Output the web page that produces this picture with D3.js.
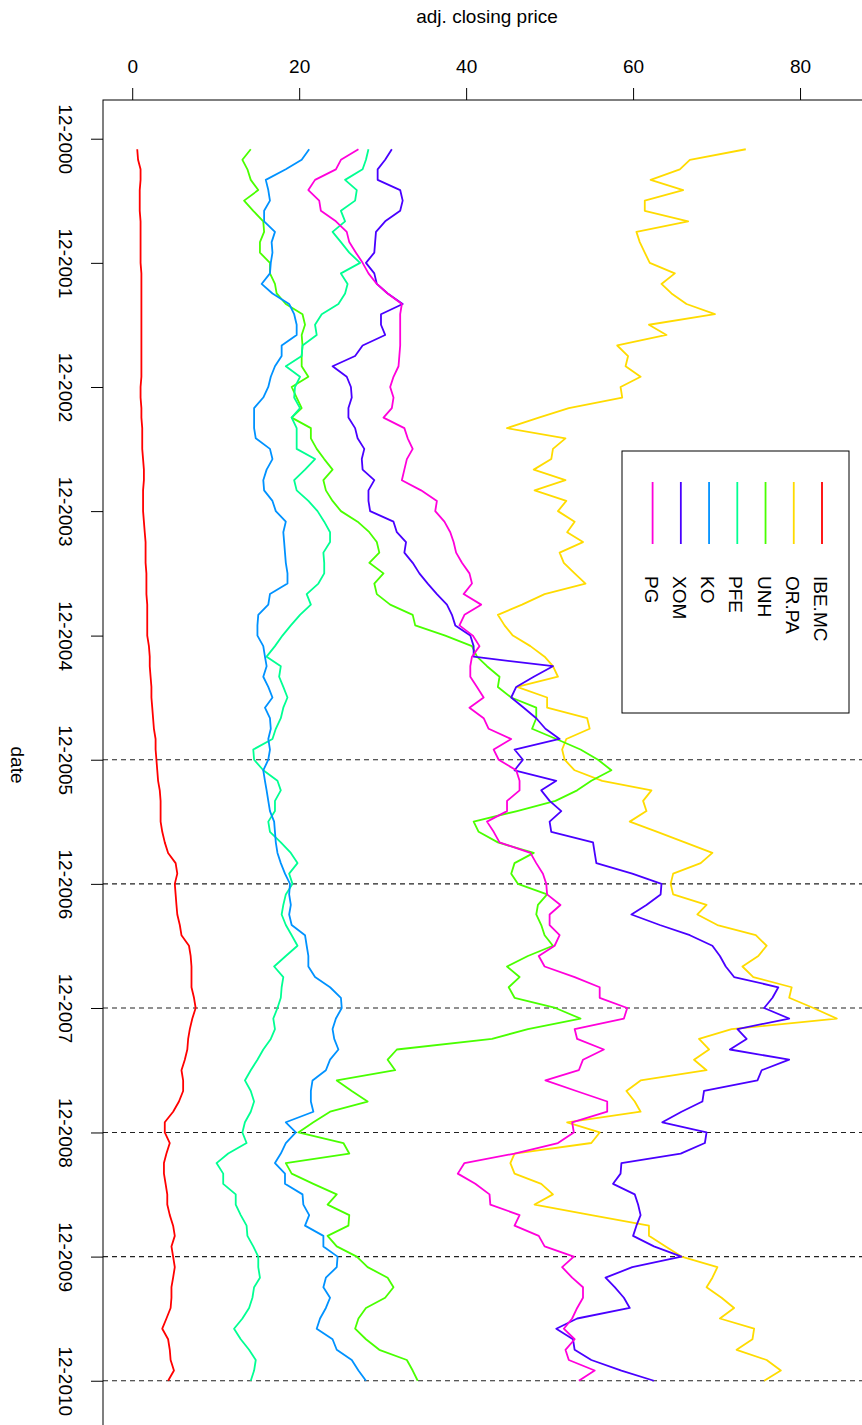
<!DOCTYPE html>
<html>
<head>
<meta charset="utf-8">
<script src="https://cdn.jsdelivr.net/npm/d3@7"></script>
<style>
  body { margin: 0; background: #fff; }
  svg { display: block; }
  text { font-family: "Liberation Sans", Arial, sans-serif; fill: #000; }
</style>
</head>
<body>
<svg id="chart" width="862" height="1425"></svg>
<script>
// Monthly adjusted closing prices, Jan 2001 .. Dec 2010
const seriesNames  = ["IBE.MC", "OR.PA", "UNH", "PFE", "KO", "XOM", "PG"];
const seriesColors = ["#FF0000", "#FFDB00", "#49FF00", "#00FF92", "#0092FF", "#4900FF", "#FF00DB"];

const months = d3.timeMonth.range(new Date(2001, 0, 1), new Date(2011, 0, 1));

const ibe = [
  0.6, 0.7, 1.0, 1.0, 0.9, 0.9, 0.9, 1.0, 1.0, 1.0, 1.0, 1.0,
  1.1, 1.1, 1.1, 1.1, 1.1, 1.1, 1.1, 1.1, 1.1, 1.1, 1.1, 1.0,
  1.0, 1.1, 1.1, 1.2, 1.2, 1.2, 1.3, 1.4, 1.4, 1.3, 1.3, 1.3,
  1.4, 1.5, 1.6, 1.6, 1.6, 1.7, 1.7, 1.7, 1.8, 1.8, 1.8, 1.8,
  2.0, 2.1, 2.1, 2.2, 2.3, 2.3, 2.4, 2.5, 2.6, 2.8, 2.8, 2.9,
  3.0, 3.1, 3.3, 3.4, 3.4, 3.4, 3.6, 3.9, 4.3, 5.2, 5.4, 5.1,
  5.2, 5.3, 5.4, 5.7, 5.9, 6.8, 7.0, 7.1, 7.1, 7.1, 7.4, 7.6,
  7.2, 6.9, 6.7, 6.6, 6.3, 5.9, 6.1, 6.1, 5.6, 4.9, 3.9, 3.9,
  4.5, 4.1, 3.8, 3.8, 4.0, 4.2, 4.2, 4.5, 4.9, 5.1, 4.7, 4.9,
  5.1, 4.9, 4.7, 4.7, 4.6, 4.1, 3.6, 4.3, 4.5, 4.6, 5.0, 4.3
];
const orpa = [
  73.5, 66.8, 65.6, 62.1, 66.0, 61.4, 61.4, 66.6, 60.4, 60.8, 61.4, 62.0,
  65.0, 63.4, 64.6, 66.4, 69.8, 61.9, 64.0, 58.1, 59.4, 59.1, 60.9, 58.5,
  58.7, 52.3, 48.7, 44.9, 51.9, 50.4, 50.2, 48.1, 51.9, 48.2, 52.0, 51.0,
  53.0, 52.1, 54.0, 51.2, 51.7, 53.0, 54.3, 49.4, 46.7, 43.8, 44.6, 45.6,
  47.7, 49.4, 50.4, 51.0, 46.1, 49.7, 49.7, 54.5, 54.8, 52.0, 51.5, 51.8,
  53.0, 56.3, 62.2, 61.2, 61.6, 59.6, 62.9, 66.2, 69.5, 68.1, 64.8, 64.5,
  64.8, 68.8, 67.7, 70.1, 74.7, 76.0, 75.0, 73.1, 74.4, 79.0, 78.7, 81.6,
  84.4, 71.8, 67.9, 69.1, 67.3, 68.8, 60.9, 59.2, 60.2, 60.9, 52.1, 56.0,
  55.0, 45.8, 45.3, 45.8, 49.0, 50.4, 48.2, 55.0, 61.9, 61.9, 63.9, 65.8,
  70.1, 69.5, 68.8, 70.6, 72.1, 70.4, 74.5, 74.3, 72.4, 76.0, 77.7, 75.7
];
const unh = [
  14.2, 13.2, 13.8, 14.2, 15.1, 13.4, 14.5, 15.7, 15.8, 15.3, 15.3, 16.5,
  16.5, 17.1, 17.3, 18.4, 20.4, 20.7, 20.3, 20.4, 20.3, 20.3, 21.1, 19.1,
  19.7, 20.3, 19.1, 21.4, 21.4, 22.1, 23.0, 24.0, 22.9, 23.2, 24.0, 25.0,
  27.0, 28.4, 29.3, 29.6, 28.4, 30.1, 29.0, 29.3, 30.9, 33.6, 33.9, 37.5,
  40.7, 41.3, 42.5, 44.0, 43.8, 45.4, 48.4, 48.4, 47.9, 50.8, 53.7, 55.8,
  57.4, 55.0, 53.3, 50.7, 46.1, 40.9, 41.5, 43.8, 48.1, 45.8, 45.4, 46.2,
  49.7, 48.6, 48.4, 49.0, 49.4, 50.4, 47.4, 44.9, 46.4, 45.1, 45.8, 50.7,
  53.7, 47.4, 43.1, 31.7, 30.6, 31.5, 24.5, 26.3, 28.2, 23.7, 21.7, 19.9,
  25.3, 26.0, 18.4, 19.1, 21.7, 24.5, 23.4, 26.0, 25.9, 23.4, 24.5, 26.9,
  28.2, 30.6, 31.3, 30.3, 28.0, 27.1, 26.7, 28.0, 29.6, 32.9, 33.6, 34.2
];
const pfe = [
  28.3, 28.0, 27.6, 25.5, 26.9, 26.7, 25.0, 25.5, 24.0, 25.0, 26.0, 27.3,
  25.0, 25.8, 25.5, 24.7, 22.7, 21.9, 22.1, 20.4, 20.3, 18.4, 20.1, 19.5,
  19.4, 20.1, 19.1, 19.7, 19.7, 19.7, 21.9, 20.7, 19.4, 19.7, 21.1, 22.2,
  23.0, 23.7, 23.7, 22.9, 23.0, 23.0, 22.3, 20.9, 21.4, 20.1, 19.0, 18.0,
  17.1, 16.1, 17.8, 17.6, 18.1, 18.6, 18.1, 17.8, 17.2, 16.8, 14.5, 14.6,
  15.7, 17.4, 17.8, 17.1, 17.1, 16.3, 16.5, 17.8, 19.0, 19.8, 18.8, 19.2,
  18.4, 18.1, 17.9, 18.4, 19.1, 19.8, 18.4, 17.0, 18.1, 17.9, 17.8, 17.4,
  16.9, 17.1, 16.6, 15.7, 15.0, 14.2, 13.5, 14.2, 14.6, 14.2, 13.5, 13.2,
  13.7, 11.5, 10.1, 10.9, 10.9, 12.4, 12.4, 13.0, 13.7, 13.8, 14.5, 15.1,
  15.1, 15.3, 14.6, 14.4, 14.0, 13.2, 12.2, 13.0, 14.0, 14.8, 14.6, 14.2
];
const ko = [
  21.2, 20.3, 18.4, 16.0, 16.3, 16.5, 15.8, 15.8, 17.1, 16.7, 16.8, 16.6,
  16.5, 15.5, 16.8, 18.8, 19.4, 19.7, 19.7, 17.9, 17.9, 17.1, 16.6, 16.3,
  15.7, 14.6, 14.6, 14.6, 14.8, 16.5, 16.8, 16.1, 15.7, 15.8, 16.8, 17.2,
  18.4, 18.1, 18.2, 18.3, 18.4, 18.6, 18.6, 16.5, 16.3, 15.1, 15.0, 15.0,
  15.7, 15.9, 16.1, 15.7, 16.3, 16.8, 15.9, 16.5, 16.6, 16.3, 16.5, 16.3,
  15.7, 15.9, 16.1, 16.3, 16.5, 17.0, 17.1, 17.2, 17.4, 17.8, 18.3, 18.9,
  18.8, 19.0, 18.8, 19.1, 20.7, 20.9, 21.1, 21.1, 21.9, 23.7, 25.0, 25.1,
  24.4, 24.0, 24.2, 24.7, 23.7, 23.2, 21.6, 21.4, 21.4, 21.7, 18.4, 19.6,
  18.4, 17.8, 17.1, 18.3, 18.3, 20.4, 20.5, 21.2, 20.7, 22.9, 22.9, 24.6,
  24.5, 23.2, 22.9, 23.7, 23.2, 22.5, 22.1, 24.0, 24.5, 26.3, 27.1, 28.0
];
const xom = [
  31.1, 30.3, 29.4, 29.4, 32.1, 32.4, 32.1, 30.3, 29.2, 29.1, 29.0, 28.0,
  29.0, 29.3, 30.6, 32.4, 29.8, 29.8, 30.3, 27.6, 26.7, 24.0, 25.7, 26.2,
  26.3, 25.9, 25.9, 26.7, 27.0, 27.8, 27.5, 27.6, 29.0, 28.3, 28.3, 28.5,
  31.3, 31.7, 32.8, 32.6, 33.6, 34.4, 35.4, 36.5, 37.7, 38.3, 38.7, 40.5,
  40.9, 40.9, 50.4, 48.1, 46.0, 45.4, 46.9, 48.4, 49.5, 51.2, 45.8, 46.8,
  45.8, 50.8, 49.0, 50.0, 51.4, 50.0, 50.2, 55.2, 55.4, 55.6, 59.9, 63.4,
  63.3, 61.6, 59.8, 63.2, 66.8, 69.5, 70.4, 71.1, 72.1, 77.4, 76.7, 75.7,
  78.7, 72.5, 73.6, 71.6, 78.7, 75.4, 74.9, 68.5, 68.3, 65.8, 63.5, 68.8,
  68.6, 65.7, 58.6, 58.5, 57.6, 60.2, 60.6, 60.9, 60.4, 60.0, 62.5, 65.8,
  59.9, 56.7, 57.8, 58.9, 59.6, 53.3, 50.8, 52.8, 53.0, 55.0, 58.6, 62.5
];
const pg = [
  27.1, 25.0, 24.4, 21.9, 21.1, 22.4, 22.6, 24.4, 25.7, 26.0, 26.8, 27.6,
  28.3, 29.3, 30.6, 32.3, 32.1, 32.1, 32.1, 32.1, 32.0, 31.9, 31.3, 30.9,
  31.3, 31.1, 30.1, 32.6, 33.0, 33.6, 32.9, 32.6, 32.3, 34.6, 36.5, 36.3,
  37.4, 38.1, 38.5, 38.8, 39.5, 40.4, 40.7, 39.7, 41.8, 39.8, 39.2, 40.8,
  41.6, 40.7, 40.5, 40.5, 41.3, 42.1, 40.4, 42.1, 42.7, 45.4, 43.3, 43.9,
  46.0, 46.4, 46.4, 44.9, 44.9, 42.5, 43.3, 44.0, 47.7, 48.4, 49.2, 49.6,
  49.7, 51.3, 50.0, 50.0, 51.2, 50.6, 48.7, 49.4, 53.0, 56.0, 56.0, 59.3,
  58.9, 53.0, 53.3, 56.5, 54.0, 53.5, 49.5, 53.2, 56.9, 56.9, 52.7, 52.9,
  51.0, 45.8, 39.8, 39.0, 41.1, 42.8, 42.9, 46.4, 45.8, 48.7, 49.4, 52.9,
  51.5, 52.7, 54.0, 54.0, 53.3, 52.7, 51.7, 53.0, 51.9, 52.3, 55.4, 53.5
];

const priceTicks = [0, 20, 40, 60, 80];
const dateTicks = d3.range(2000, 2011).map(yr => new Date(yr, 11, 1));
const dashedDates = d3.range(2005, 2011).map(yr => new Date(yr, 11, 1));

const seriesValues = [ibe, orpa, unh, pfe, ko, xom, pg];
const series = seriesNames.map((name, k) => ({
  name, color: seriesColors[k],
  points: months.map((d, i) => ({ date: d, value: seriesValues[k][i] }))
}));

// Plot frame (the plot is drawn rotated: price runs left-to-right, time runs downward)
const frame = { left: 103, top: 100, right: 871, bottom: 1430 };

const svg = d3.select("#chart");

const x = d3.scaleLinear().domain([-3.5, 88.5]).range([frame.left, frame.right]);

const t0 = months[0], t1 = months[months.length - 1];
const pad = (t1 - t0) * 0.04;
const y = d3.scaleTime()
  .domain([new Date(+t0 - pad), new Date(+t1 + pad)])
  .range([frame.top, frame.bottom]);

// dashed year markers
svg.append("g").selectAll("line").data(dashedDates).join("line")
  .attr("x1", frame.left).attr("x2", frame.right)
  .attr("y1", d => y(d)).attr("y2", d => y(d))
  .attr("stroke", "#222").attr("stroke-width", 1.1)
  .attr("stroke-dasharray", "5,4");

// series lines
const line = d3.line().x(d => x(d.value)).y(d => y(d.date));
svg.append("g").selectAll("path").data(series).join("path")
  .attr("d", d => line(d.points))
  .attr("fill", "none")
  .attr("stroke", d => d.color)
  .attr("stroke-width", 1.8)
  .attr("stroke-linejoin", "round");

// frame
svg.append("rect")
  .attr("x", frame.left).attr("y", frame.top)
  .attr("width", frame.right - frame.left).attr("height", frame.bottom - frame.top)
  .attr("fill", "none").attr("stroke", "#000").attr("stroke-width", 1);

// price axis along the top
const topAxis = svg.append("g")
  .attr("transform", `translate(0,${frame.top})`)
  .call(d3.axisTop(x).tickValues(priceTicks).tickSize(12).tickPadding(15).tickFormat(d3.format("d")));
topAxis.select(".domain").remove();
topAxis.selectAll("line").attr("stroke", "#000");
topAxis.selectAll("text").attr("font-size", 19).attr("font-family", "Liberation Sans, Arial, sans-serif");

// date axis along the left, labels rotated
const leftAxis = svg.append("g")
  .attr("transform", `translate(${frame.left},0)`)
  .call(d3.axisLeft(y).tickValues(dateTicks).tickSize(12).tickFormat(d3.timeFormat("%m-%Y")));
leftAxis.select(".domain").remove();
leftAxis.selectAll("line").attr("stroke", "#000");
leftAxis.selectAll("text")
  .attr("x", null).attr("dy", null)
  .attr("text-anchor", "middle")
  .attr("transform", "translate(-44,0) rotate(90)")
  .attr("font-size", 19).attr("font-family", "Liberation Sans, Arial, sans-serif");

// axis titles
svg.append("text")
  .attr("x", (frame.left + frame.right) / 2).attr("y", 23)
  .attr("text-anchor", "middle").attr("font-size", 19)
  .text("adj. closing price");
svg.append("text")
  .attr("transform", `translate(11,${(frame.top + frame.bottom) / 2}) rotate(90)`)
  .attr("text-anchor", "middle").attr("font-size", 19)
  .text("date");

// legend
const legend = svg.append("g");
legend.append("rect")
  .attr("x", 622).attr("y", 451).attr("width", 227).attr("height", 262)
  .attr("fill", "#fff").attr("stroke", "#000").attr("stroke-width", 1);
const col = d3.scalePoint().domain(seriesNames).range([822, 652.6]);
const item = legend.selectAll("g.item").data(series).join("g").attr("class", "item");
item.append("line")
  .attr("x1", d => col(d.name)).attr("x2", d => col(d.name))
  .attr("y1", 482).attr("y2", 544)
  .attr("stroke", d => d.color).attr("stroke-width", 1.8);
item.append("text")
  .attr("transform", d => `translate(${col(d.name) - 8},576) rotate(90)`)
  .attr("font-size", 19)
  .text(d => d.name);
</script>
</body>
</html>
